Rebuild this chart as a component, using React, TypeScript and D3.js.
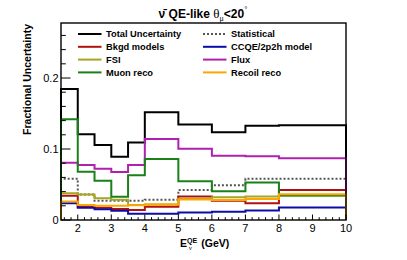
import React from "react";
import * as d3 from "d3";

const edges = [1.5, 2, 2.5, 3, 3.5, 4, 5, 6, 7, 8, 10];
const totalUnc = [0.1845, 0.1207, 0.1056, 0.0892, 0.109, 0.1517, 0.1347, 0.1235, 0.1329, 0.1333];
const statistical = [0.0582, 0.036, 0.027, 0.027, 0.027, 0.0285, 0.0423, 0.049, 0.058, 0.058];
const bkgdModels = [0.0343, 0.0188, 0.0174, 0.0155, 0.0141, 0.0188, 0.033, 0.027, 0.0235, 0.0423];
const ccqeModel = [0.0235, 0.0174, 0.015, 0.0131, 0.0089, 0.0089, 0.0105, 0.0117, 0.0135, 0.0176];
const fsi = [0.0376, 0.036, 0.0305, 0.0286, 0.021, 0.022, 0.03, 0.032, 0.033, 0.0345];
const flux = [0.0808, 0.0775, 0.0723, 0.0676, 0.0775, 0.114, 0.1005, 0.0906, 0.0897, 0.0869];
const muonReco = [0.1418, 0.068, 0.0554, 0.0329, 0.063, 0.0859, 0.0545, 0.0404, 0.0528, 0.0345];
const recoilReco = [0.026, 0.0211, 0.0202, 0.0202, 0.0207, 0.022, 0.029, 0.028, 0.0296, 0.0362];

const xTicks = [2, 3, 4, 5, 6, 7, 8, 9, 10];
const yTicks = [0, 0.1, 0.2];

const series = [
  { name: "Total Uncertainty", values: totalUnc, color: "#000000", dash: "" },
  { name: "Statistical", values: statistical, color: "#555555", dash: "2,2" },
  { name: "Bkgd models", values: bkgdModels, color: "#b01010", dash: "" },
  { name: "CCQE/2p2h model", values: ccqeModel, color: "#0c0ca8", dash: "" },
  { name: "FSI", values: fsi, color: "#a6a620", dash: "" },
  { name: "Flux", values: flux, color: "#b020b0", dash: "" },
  { name: "Muon reco", values: muonReco, color: "#1a801a", dash: "" },
  { name: "Recoil reco", values: recoilReco, color: "#ffa500", dash: "" },
];

const W = 407, H = 260;
const L = 61, R = 346, T = 23, B = 220;

export default function App() {
  const x = d3.scaleLinear().domain([1.5, 10]).range([L, R]);
  const y = d3.scaleLinear().domain([0, 0.2775]).range([B, T]);
  const line = d3.line<[number, number]>().x((d) => x(d[0])).y((d) => y(d[1]));

  const pathFor = (vals: number[]) => {
    const pts: [number, number][] = [[edges[0], 0]];
    vals.forEach((v, i) => {
      pts.push([edges[i], v]);
      pts.push([edges[i + 1], v]);
    });
    pts.push([edges[edges.length - 1], 0]);
    return line(pts) || "";
  };

  const xMinor = d3.range(1.6, 10.0001, 0.2).filter((t) => Math.abs(t - Math.round(t)) > 0.01);
  const yMinor = d3.range(0.02, 0.2775, 0.02).filter((t) => Math.abs(t * 10 - Math.round(t * 10)) > 0.01);

  const sans = "'Liberation Sans', Arial, Helvetica, sans-serif";
  const serif = "'Liberation Serif', 'DejaVu Serif', serif";

  const legendRows = [0, 1, 2, 3];
  const rowY = (r: number) => 34 + r * 12.8;

  return (
    <svg width={W} height={H} style={{ position: "absolute", left: 0, top: 0, background: "#fff" }}>
      <rect x={0} y={0} width={W} height={H} fill="#fff" />
      {/* title */}
      <text x={203} y={17.5} textAnchor="middle" fontFamily={sans} fontWeight="bold" fontSize={12}>
        <tspan>ν̄ QE-like </tspan>
        <tspan fontFamily={serif} fontWeight="normal" fontSize={13}>θ</tspan>
        <tspan fontFamily={serif} fontWeight="normal" fontSize={8} dy={3}>μ</tspan>
        <tspan dy={-3}>&lt;20</tspan>
        <tspan fontSize={8} fontWeight="normal" dy={-6}>°</tspan>
      </text>

      {/* histograms */}
      {series.map((s) => (
        <path key={s.name} d={pathFor(s.values)} fill="none" stroke={s.color} strokeWidth={2}
          strokeDasharray={s.dash || undefined} />
      ))}

      {/* frame */}
      <rect x={L} y={T} width={R - L} height={B - T} fill="none" stroke="#000" strokeWidth={1.4} />

      {/* x ticks */}
      {xTicks.map((t) => (
        <g key={"xt" + t}>
          <line x1={x(t)} x2={x(t)} y1={B} y2={B - 5.5} stroke="#000" strokeWidth={1} />
          <text x={x(t)} y={232} textAnchor="middle" fontFamily={sans} fontSize={11}>{t}</text>
        </g>
      ))}
      {xMinor.map((t) => (
        <line key={"xm" + t} x1={x(t)} x2={x(t)} y1={B} y2={B - 2.8} stroke="#000" strokeWidth={1} />
      ))}

      {/* y ticks */}
      {yTicks.map((t) => (
        <g key={"yt" + t}>
          <line x1={L} x2={L + 9.5} y1={y(t)} y2={y(t)} stroke="#000" strokeWidth={1} />
          <text x={58.5} y={y(t) + 4} textAnchor="end" fontFamily={sans} fontSize={11}>{t === 0 ? "0" : t.toString()}</text>
        </g>
      ))}
      {yMinor.map((t) => (
        <line key={"ym" + t} x1={L} x2={L + 4.8} y1={y(t)} y2={y(t)} stroke="#000" strokeWidth={1} />
      ))}

      {/* axis titles */}
      <text transform={`translate(30.5,${T + 1}) rotate(-90)`} textAnchor="end" fontFamily={sans}
        fontWeight="bold" fontSize={10.5}>Fractional Uncertainty</text>
      <text x={180} y={247} fontFamily={sans} fontWeight="bold" fontSize={10.5}>
        <tspan>E</tspan>
        <tspan fontSize={7} dy={-4.5}>QE</tspan>
        <tspan fontFamily={serif} fontWeight="normal" fontSize={7} dx={-8.5} dy={7}>ν</tspan>
        <tspan dx={6.5} dy={-2.5}> (GeV)</tspan>
      </text>

      {/* legend */}
      {series.map((s, i) => {
        const col = i % 2;
        const row = legendRows[Math.floor(i / 2)];
        const lx = col === 0 ? 78 : 203;
        const ly = rowY(row);
        return (
          <g key={"lg" + s.name}>
            <line x1={lx} x2={lx + 23.5} y1={ly} y2={ly} stroke={s.color} strokeWidth={2}
              strokeDasharray={s.dash || undefined} />
            <text x={lx + 28} y={ly + 3.4} fontFamily={sans} fontWeight="bold" fontSize={9.3}>{s.name}</text>
          </g>
        );
      })}
    </svg>
  );
}
